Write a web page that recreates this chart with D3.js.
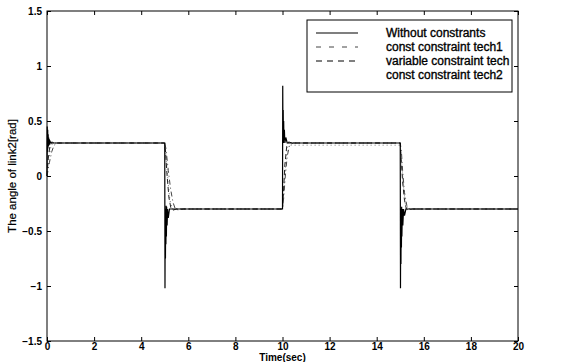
<!DOCTYPE html>
<html><head><meta charset="utf-8">
<script src="https://cdn.jsdelivr.net/npm/d3@7"></script>
<style>body{margin:0;background:#fff}svg{display:block}text{font-family:"Liberation Sans",Arial,Helvetica,sans-serif}</style>
</head><body><svg id="c" width="576" height="362"></svg>
<script>
// ---- data ----
const xTicks = [0,2,4,6,8,10,12,14,16,18,20];
const yTicks = [-1.5,-1,-0.5,0,0.5,1,1.5];
const yTickLabels = ["\u22121.5","\u22121","\u22120.5","0","0.5","1","1.5"];
const seriesNames = ["Without constrants","const constraint tech1","variable constraint tech","const constraint tech2"];

const withoutConstraints = [[0,0],[0.01,0.45],[0.02,0.22],[0.03,0.42],[0.04,0.25],[0.05,0.38],[0.06,0.27],[0.07,0.35],[0.09,0.28],[0.12,0.32],[0.16,0.3],
 [5.0,0.3],[5.01,-1.02],[5.02,-0.35],[5.03,-0.75],[5.04,-0.3],[5.05,-0.62],[5.06,-0.27],[5.07,-0.55],[5.08,-0.28],[5.1,-0.45],[5.12,-0.3],[5.15,-0.38],[5.2,-0.3],
 [10.0,-0.3],[10.01,0.82],[10.02,0.35],[10.03,0.6],[10.04,0.3],[10.05,0.5],[10.06,0.33],[10.08,0.42],[10.1,0.3],[10.14,0.35],[10.2,0.3],
 [15.0,0.3],[15.01,-1.02],[15.02,-0.32],[15.03,-0.8],[15.04,-0.3],[15.05,-0.65],[15.06,-0.28],[15.07,-0.55],[15.09,-0.3],[15.11,-0.45],[15.14,-0.3],[15.18,-0.36],[15.24,-0.3],[20,-0.3]];
const constTech1 = [[0,0],[0.1,0.12],[0.2,0.22],[0.3,0.28],[0.45,0.3],[5.0,0.3],[5.05,0.25],[5.15,0.05],[5.25,-0.12],[5.35,-0.24],[5.45,-0.3],[5.6,-0.31],[5.8,-0.3],
 [10.0,-0.3],[10.05,-0.2],[10.12,0.0],[10.2,0.18],[10.3,0.28],[10.45,0.3],[15.0,0.3],[15.05,0.22],[15.1,0.05],[15.18,-0.15],[15.28,-0.27],[15.4,-0.3],[20,-0.3]];
const variableTech = [[0,0],[0.05,0.15],[0.12,0.27],[0.2,0.31],[0.3,0.3],[5.0,0.3],[5.04,0.2],[5.1,0.0],[5.18,-0.2],[5.26,-0.29],[5.35,-0.31],[5.5,-0.3],
 [10,-0.3],[10.04,-0.15],[10.1,0.1],[10.18,0.27],[10.26,0.31],[10.4,0.3],[15,0.3],[15.04,0.15],[15.1,-0.05],[15.18,-0.22],[15.26,-0.3],[15.35,-0.31],[15.5,-0.3],[20,-0.3]];
const constTech2 = [[0,0],[0.08,0.16],[0.16,0.26],[0.25,0.3],[5.0,0.3],[5.06,0.18],[5.14,-0.05],[5.22,-0.22],[5.32,-0.3],[10,-0.3],[10.06,-0.12],[10.14,0.12],[10.22,0.26],[10.32,0.28],[15,0.28],[15.06,0.12],[15.14,-0.1],[15.22,-0.26],[15.32,-0.3],[20,-0.3]];

// ---- chart ----
const svg = d3.select("#c");
const L=47,R=518,T=11,B=341;
const x = d3.scaleLinear().domain([0,20]).range([L,R]);
const y = d3.scaleLinear().domain([-1.5,1.5]).range([B,T]);

const gx = svg.append("g").attr("transform",`translate(0,${B})`)
  .call(d3.axisBottom(x).tickValues(xTicks).tickSizeInner(-4).tickSizeOuter(0).tickPadding(2).tickFormat(d3.format("d")));
const gxt = svg.append("g").attr("transform",`translate(0,${T})`)
  .call(d3.axisTop(x).tickValues(xTicks).tickSizeInner(-4).tickSizeOuter(0).tickFormat(""));
const gy = svg.append("g").attr("transform",`translate(${L},0)`)
  .call(d3.axisLeft(y).tickValues(yTicks).tickSizeInner(-4).tickSizeOuter(0).tickPadding(5).tickFormat((d,i)=>yTickLabels[i]));
const gyr = svg.append("g").attr("transform",`translate(${R},0)`)
  .call(d3.axisRight(y).tickValues(yTicks).tickSizeInner(-4).tickSizeOuter(0).tickFormat(""));
[gx,gxt,gy,gyr].forEach(g=>{
  g.select(".domain").remove();
  g.selectAll("line").attr("stroke","#000").attr("stroke-width",1);
  g.selectAll("text").attr("font-size",10).attr("font-weight","bold").attr("fill","#000")
   .attr("font-family","Liberation Sans, Arial, sans-serif");
});
svg.append("rect").attr("x",L).attr("y",T).attr("width",R-L).attr("height",B-T)
  .attr("fill","none").attr("stroke","#000").attr("stroke-width",1);

const line = d3.line().x(d=>x(d[0])).y(d=>y(d[1]));
const styles = [
  {data:withoutConstraints, dash:null, color:"#000", w:1.2},
  {data:constTech1, dash:"5,3,1,3", color:"#444", w:1},
  {data:variableTech, dash:"5,3", color:"#222", w:1},
  {data:constTech2, dash:"1,3", color:"#777", w:1}
];
styles.slice().reverse().forEach(s=>{
  svg.append("path").datum(s.data).attr("d",line).attr("fill","none")
    .attr("stroke",s.color).attr("stroke-width",s.w).attr("stroke-dasharray",s.dash);
});

// legend
const lg = svg.append("g");
lg.append("rect").attr("x",307).attr("y",20).attr("width",205).attr("height",72)
  .attr("fill","#fff").attr("stroke","#000").attr("stroke-width",1);
seriesNames.forEach((n,i)=>{
  const yy = 33 + i*14;
  if(i<3) lg.append("line").attr("x1",316).attr("x2",358).attr("y1",yy).attr("y2",yy)
    .attr("stroke",i===1?"#444":"#000").attr("stroke-width",i===0?1.2:1).attr("stroke-dasharray",i===1?"5,8":(i===2?"6,5":null));
  lg.append("text").attr("x",386).attr("y",yy+4).attr("font-size",12).attr("fill","#000")
    .attr("stroke","#000").attr("stroke-width",0.35).text(n);
});

svg.append("text").attr("x",x(10)).attr("y",361).attr("text-anchor","middle")
  .attr("font-size",10).attr("font-weight","bold").text("Time(sec)");
svg.append("text").attr("transform",`translate(16,${y(0)}) rotate(-90)`).attr("text-anchor","middle")
  .attr("font-size",11.5).attr("fill","#000").attr("stroke","#000").attr("stroke-width",0.2).text("The angle of link2[rad]");
</script></body></html>
